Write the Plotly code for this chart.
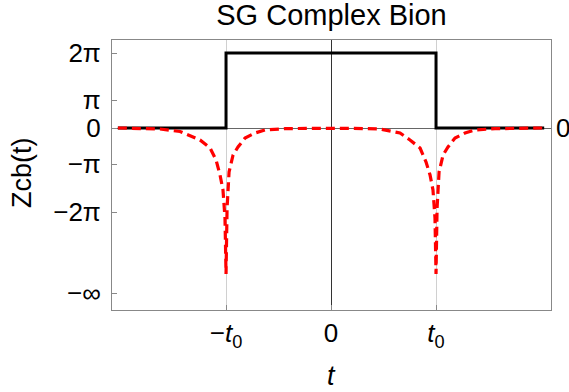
import plotly.graph_objects as go

# ---- data (t in units of t0; y in display units of the frame) ----
black_t = [-2.03, -1.0, -1.0, 1.0, 1.0, 2.03]
black_y = [0, 0, 75, 75, 0, 0]

red_t = [-2.03, -1.629, -1.438, -1.248, -1.152, -1.095, -1.057, -1.029, -1.01, -1.0,
         -0.99, -0.971, -0.933, -0.886, -0.819, -0.724, -0.629, -0.438, -0.2, 0.0,
         0.2, 0.467, 0.657, 0.752, 0.848, 0.905, 0.943, 0.971, 0.99, 1.0,
         1.01, 1.029, 1.067, 1.114, 1.181, 1.276, 1.371, 1.562, 1.8, 2.02]
red_y = [0, -1, -3.5, -12, -20, -32, -47, -62, -90, -146,
         -80, -44, -27, -19, -10, -5, -2, -0.7, -0.3, 0,
         -0.3, -1, -5, -12, -20, -34, -47, -62, -90, -146,
         -80, -44, -27, -19, -10, -5, -2, -0.7, -0.2, 0]

x_tickvals = [-1, 0, 1]
x_ticktext = ["\u2212<i>t</i><sub>0</sub>", "0", "<i>t</i><sub>0</sub>"]
y_tickvals = [75, 28, 0, -36, -84, -165]
y_ticktext = ["2\u03c0", "\u03c0", "0", "\u2212\u03c0", "\u22122\u03c0", "\u2212\u221e"]

FONT = "Liberation Sans, Arial, sans-serif"

fig = go.Figure()
fig.add_trace(go.Scatter(x=black_t, y=black_y, mode="lines",
                         line=dict(color="black", width=3), hoverinfo="skip"))
fig.add_trace(go.Scatter(x=red_t, y=red_y, mode="lines",
                         line=dict(color="#ff0000", width=3.2, dash="9px,5px"),
                         hoverinfo="skip"))

fig.update_layout(
    width=569, height=392,
    margin=dict(l=112, r=18, t=40, b=82),
    paper_bgcolor="white", plot_bgcolor="white",
    showlegend=False,
    font=dict(family=FONT, size=26, color="black"),
    title=dict(text="SG Complex Bion", x=331.5 / 569, xanchor="center",
               y=1 - 15 / 392, yanchor="middle",
               font=dict(family=FONT, size=29, color="black")),
)
fig.update_xaxes(
    range=[-2.086, 2.095], tickvals=x_tickvals, ticktext=x_ticktext,
    showgrid=True, gridcolor="#d0d0d0", gridwidth=1,
    zeroline=True, zerolinecolor="#333333", zerolinewidth=1,
    showline=True, mirror=True, linecolor="#888888", linewidth=1,
    ticks="inside", ticklen=5, tickcolor="#888888",
    ticklabelstandoff=0,
    tickfont=dict(family=FONT, size=26, color="black"),
)
fig.update_yaxes(
    range=[-182, 88], tickvals=y_tickvals, ticktext=y_ticktext,
    showgrid=False,
    zeroline=True, zerolinecolor="#666666", zerolinewidth=1,
    showline=True, mirror=True, linecolor="#888888", linewidth=1,
    ticks="inside", ticklen=5, tickcolor="#888888",
    ticklabelstandoff=5,
    tickfont=dict(family=FONT, size=26, color="black"),
)
fig.add_annotation(text="Zcb(t)", xref="paper", yref="paper",
                   x=(22 - 112) / 439, y=(310 - 173) / 270,
                   xanchor="center", yanchor="middle",
                   textangle=-90, showarrow=False,
                   font=dict(family=FONT, size=27, color="black"))
fig.add_annotation(text="<i>t</i>", xref="paper", yref="paper",
                   x=0.5, y=(310 - 376) / 270,
                   xanchor="center", yanchor="middle", showarrow=False,
                   font=dict(family=FONT, size=27, color="black"))
fig.add_annotation(text="0", xref="paper", yref="y",
                   x=1.0, y=0, xanchor="left", yanchor="middle", xshift=3,
                   showarrow=False,
                   font=dict(family=FONT, size=26, color="black"))

fig.write_html("out.html")
